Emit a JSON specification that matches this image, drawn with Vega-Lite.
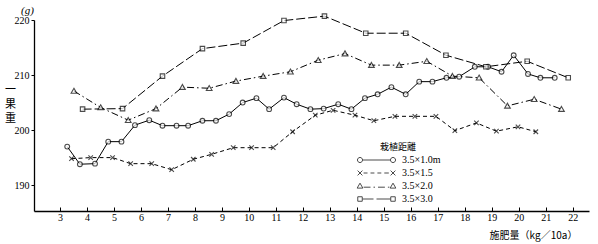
{
  "$schema": "https://vega.github.io/schema/vega-lite/v6.json",
  "width": 555,
  "height": 191,
  "autosize": {"type": "none"},
  "padding": {"left": 34, "top": 20, "right": 9, "bottom": 33},
  "background": "white",
  "title": {"text": "(g)", "anchor": "start", "frame": "group", "dx": -13, "dy": 8, "font": "Liberation Serif", "fontSize": 11, "fontWeight": "normal", "fontStyle": "italic", "color": "black"},
  "config": {
    "view": {"stroke": null},
    "axis": {"grid": false, "domainColor": "black", "tickColor": "black", "labelColor": "black", "titleColor": "black", "labelFont": "Liberation Serif", "labelFontSize": 10, "domainWidth": 1.3, "tickWidth": 1},
    "legend": {"symbolStrokeColor": "black", "symbolStrokeWidth": 1, "labelFont": "Liberation Serif", "labelFontSize": 10, "labelColor": "black", "titleFont": "Noto Sans CJK JP", "titleFontSize": 9, "titleFontWeight": "normal", "titleColor": "black"}
  },
  "data": {"values": [
    {"series": "3.5×1.0m", "x": 3.27, "y": 197.0}, {"series": "3.5×1.0m", "x": 3.74, "y": 193.8}, {"series": "3.5×1.0m", "x": 4.3, "y": 193.9}, {"series": "3.5×1.0m", "x": 4.79, "y": 197.9}, {"series": "3.5×1.0m", "x": 5.28, "y": 197.9}, {"series": "3.5×1.0m", "x": 5.78, "y": 200.9}, {"series": "3.5×1.0m", "x": 6.31, "y": 201.8}, {"series": "3.5×1.0m", "x": 6.8, "y": 200.8}, {"series": "3.5×1.0m", "x": 7.32, "y": 200.8}, {"series": "3.5×1.0m", "x": 7.75, "y": 200.8}, {"series": "3.5×1.0m", "x": 8.28, "y": 201.7}, {"series": "3.5×1.0m", "x": 8.78, "y": 201.7}, {"series": "3.5×1.0m", "x": 9.27, "y": 202.9}, {"series": "3.5×1.0m", "x": 9.77, "y": 205.0}, {"series": "3.5×1.0m", "x": 10.28, "y": 205.8}, {"series": "3.5×1.0m", "x": 10.75, "y": 203.8}, {"series": "3.5×1.0m", "x": 11.3, "y": 205.9}, {"series": "3.5×1.0m", "x": 11.77, "y": 204.7}, {"series": "3.5×1.0m", "x": 12.28, "y": 203.8}, {"series": "3.5×1.0m", "x": 12.77, "y": 203.9}, {"series": "3.5×1.0m", "x": 13.31, "y": 204.7}, {"series": "3.5×1.0m", "x": 13.8, "y": 203.8}, {"series": "3.5×1.0m", "x": 14.3, "y": 205.8}, {"series": "3.5×1.0m", "x": 14.77, "y": 206.5}, {"series": "3.5×1.0m", "x": 15.28, "y": 207.8}, {"series": "3.5×1.0m", "x": 15.81, "y": 206.5}, {"series": "3.5×1.0m", "x": 16.31, "y": 208.8}, {"series": "3.5×1.0m", "x": 16.8, "y": 208.8}, {"series": "3.5×1.0m", "x": 17.32, "y": 209.5}, {"series": "3.5×1.0m", "x": 17.79, "y": 209.7}, {"series": "3.5×1.0m", "x": 18.37, "y": 211.5}, {"series": "3.5×1.0m", "x": 18.86, "y": 211.5}, {"series": "3.5×1.0m", "x": 19.36, "y": 210.6}, {"series": "3.5×1.0m", "x": 19.81, "y": 213.6}, {"series": "3.5×1.0m", "x": 20.34, "y": 210.2}, {"series": "3.5×1.0m", "x": 20.8, "y": 209.5}, {"series": "3.5×1.0m", "x": 21.33, "y": 209.5},
    {"series": "3.5×1.5", "x": 3.43, "y": 194.8}, {"series": "3.5×1.5", "x": 4.14, "y": 195.0}, {"series": "3.5×1.5", "x": 4.95, "y": 195.0}, {"series": "3.5×1.5", "x": 5.62, "y": 193.9}, {"series": "3.5×1.5", "x": 6.4, "y": 193.9}, {"series": "3.5×1.5", "x": 7.14, "y": 192.8}, {"series": "3.5×1.5", "x": 7.94, "y": 194.7}, {"series": "3.5×1.5", "x": 8.62, "y": 195.6}, {"series": "3.5×1.5", "x": 9.42, "y": 196.8}, {"series": "3.5×1.5", "x": 10.1, "y": 196.8}, {"series": "3.5×1.5", "x": 10.9, "y": 196.8}, {"series": "3.5×1.5", "x": 11.62, "y": 199.7}, {"series": "3.5×1.5", "x": 12.46, "y": 202.7}, {"series": "3.5×1.5", "x": 13.12, "y": 203.6}, {"series": "3.5×1.5", "x": 13.93, "y": 202.7}, {"series": "3.5×1.5", "x": 14.63, "y": 201.7}, {"series": "3.5×1.5", "x": 15.41, "y": 202.5}, {"series": "3.5×1.5", "x": 16.15, "y": 202.5}, {"series": "3.5×1.5", "x": 16.93, "y": 202.5}, {"series": "3.5×1.5", "x": 17.63, "y": 199.9}, {"series": "3.5×1.5", "x": 18.43, "y": 201.3}, {"series": "3.5×1.5", "x": 19.17, "y": 199.8}, {"series": "3.5×1.5", "x": 19.97, "y": 200.6}, {"series": "3.5×1.5", "x": 20.63, "y": 199.7},
    {"series": "3.5×2.0", "x": 3.52, "y": 207.1}, {"series": "3.5×2.0", "x": 4.51, "y": 204.1}, {"series": "3.5×2.0", "x": 5.53, "y": 201.8}, {"series": "3.5×2.0", "x": 6.56, "y": 203.9}, {"series": "3.5×2.0", "x": 7.54, "y": 207.8}, {"series": "3.5×2.0", "x": 8.53, "y": 207.6}, {"series": "3.5×2.0", "x": 9.52, "y": 208.9}, {"series": "3.5×2.0", "x": 10.53, "y": 209.8}, {"series": "3.5×2.0", "x": 11.54, "y": 210.6}, {"series": "3.5×2.0", "x": 12.57, "y": 212.7}, {"series": "3.5×2.0", "x": 13.56, "y": 213.9}, {"series": "3.5×2.0", "x": 14.54, "y": 211.8}, {"series": "3.5×2.0", "x": 15.57, "y": 211.8}, {"series": "3.5×2.0", "x": 16.59, "y": 212.5}, {"series": "3.5×2.0", "x": 17.54, "y": 209.8}, {"series": "3.5×2.0", "x": 18.53, "y": 209.5}, {"series": "3.5×2.0", "x": 19.58, "y": 204.4}, {"series": "3.5×2.0", "x": 20.57, "y": 205.6}, {"series": "3.5×2.0", "x": 21.58, "y": 203.8},
    {"series": "3.5×3.0", "x": 3.84, "y": 203.8}, {"series": "3.5×3.0", "x": 5.32, "y": 203.9}, {"series": "3.5×3.0", "x": 6.8, "y": 209.8}, {"series": "3.5×3.0", "x": 8.28, "y": 214.8}, {"series": "3.5×3.0", "x": 9.79, "y": 215.8}, {"series": "3.5×3.0", "x": 11.3, "y": 219.9}, {"series": "3.5×3.0", "x": 12.8, "y": 220.7}, {"series": "3.5×3.0", "x": 14.33, "y": 217.6}, {"series": "3.5×3.0", "x": 15.81, "y": 217.6}, {"series": "3.5×3.0", "x": 17.3, "y": 213.6}, {"series": "3.5×3.0", "x": 18.78, "y": 211.5}, {"series": "3.5×3.0", "x": 20.31, "y": 212.5}, {"series": "3.5×3.0", "x": 21.83, "y": 209.5}
  ]},
  "encoding": {
    "x": {"field": "x", "type": "quantitative", "scale": {"domain": [2.04, 22.6], "nice": false, "zero": false},
      "axis": {"values": [3,4,5,6,7,8,9,10,11,12,13,14,15,16,17,18,19,20,21,22], "tickSize": -4, "labelPadding": 5, "labelFontSize": 10,
        "title": "施肥量（kg／10a）", "titleFont": "Noto Sans CJK JP", "titleFontSize": 10, "titleFontWeight": "normal", "titleX": 499, "titleY": 24, "titleAlign": "center", "titleBaseline": "middle"}},
    "y": {"field": "y", "type": "quantitative", "scale": {"domain": [185.3, 220], "nice": false, "zero": false},
      "axis": {"values": [190, 200, 210, 220], "tickSize": 3, "labelPadding": 2,
        "title": ["一", "果", "重"], "titleAngle": 0, "titleFont": "Noto Sans CJK JP", "titleFontSize": 11, "titleFontWeight": "normal", "titleLineHeight": 14.5, "titleX": -24, "titleY": 63.5, "titleAlign": "center", "titleBaseline": "top"}}
  },
  "layer": [
    {"transform": [{"filter": "datum.series === '3.5×1.0m'"}], "mark": {"type": "line", "color": "black", "strokeWidth": 1}},
    {"transform": [{"filter": "datum.series === '3.5×1.5'"}], "mark": {"type": "line", "color": "black", "strokeWidth": 1, "strokeDash": [4, 3]}},
    {"transform": [{"filter": "datum.series === '3.5×2.0'"}], "mark": {"type": "line", "color": "black", "strokeWidth": 1, "strokeDash": [7, 3, 1.5, 3]}},
    {"transform": [{"filter": "datum.series === '3.5×3.0'"}], "mark": {"type": "line", "color": "black", "strokeWidth": 1, "strokeDash": [9, 3]}},
    {
      "mark": {"type": "point", "fill": "white", "stroke": "black", "strokeWidth": 1.1, "size": 36},
      "encoding": {
        "shape": {"field": "series", "type": "nominal", "legend": null,
          "scale": {"domain": ["3.5×1.0m", "3.5×1.5", "3.5×2.0", "3.5×3.0"],
            "range": ["M-0.8 0A0.8 0.8 0 1 0 0.8 0A0.8 0.8 0 1 0 -0.8 0Z", "M-0.75 -0.75L0.75 0.75M-0.75 0.75L0.75 -0.75", "M0 -0.9L0.95 0.75L-0.95 0.75Z", "M-0.75 -0.75L0.75 -0.75L0.75 0.75L-0.75 0.75Z"]}
        }
      }
    },
    {
      "transform": [{"filter": "false"}],
      "mark": {"type": "point", "color": "black", "filled": false, "strokeWidth": 1, "size": 36},
      "encoding": {
        "shape": {"field": "series", "type": "nominal",
          "scale": {"domain": ["3.5×1.0m", "3.5×1.5", "3.5×2.0", "3.5×3.0"],
            "range": [
              "M-0.85 0A0.85 0.85 0 1 0 0.85 0A0.85 0.85 0 1 0 -0.85 0ZM0.85 0L10.15 0M10.15 0A0.85 0.85 0 1 0 11.85 0A0.85 0.85 0 1 0 10.15 0Z",
              "M-0.8 -0.8L0.8 0.8M-0.8 0.8L0.8 -0.8M1.2 0L2.5 0M3.5 0L4.8 0M5.8 0L7.1 0M8.1 0L9.6 0M10.2 -0.8L11.8 0.8M10.2 0.8L11.8 -0.8",
              "M0 -0.95L0.95 0.7L-0.95 0.7ZM1.2 0.4L3.5 0.4M4.5 0.4L5 0.4M6 0.4L8.3 0.4M9.3 0.4L9.8 0.4M11 -0.95L11.95 0.7L10.05 0.7Z",
              "M-0.75 -0.75L0.75 -0.75L0.75 0.75L-0.75 0.75ZM0.75 0L4.5 0M5.5 0L10.25 0M10.25 -0.75L11.75 -0.75L11.75 0.75L10.25 0.75Z"
            ]},
          "legend": {"title": "栽植距離", "orient": "none", "legendX": 321, "legendY": 123, "symbolSize": 36, "titleAnchor": "middle", "rowPadding": 3, "labelOffset": 37, "titlePadding": 3}
        }
      }
    }
  ],
  "resolve": {"scale": {"shape": "independent"}, "legend": {"shape": "independent"}}
}
